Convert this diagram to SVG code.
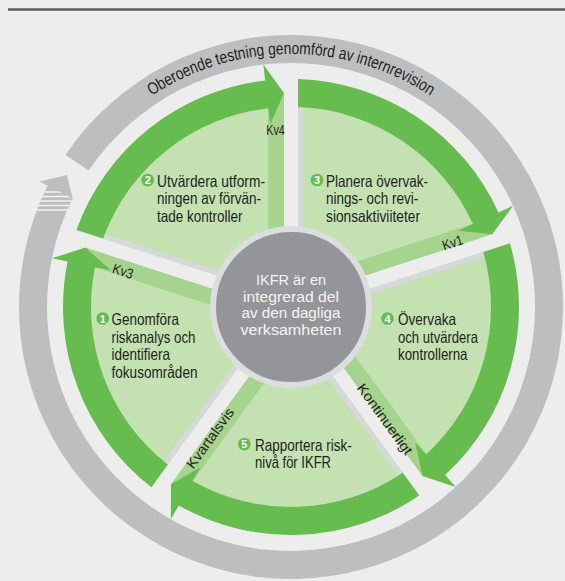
<svg xmlns="http://www.w3.org/2000/svg" xmlns:xlink="http://www.w3.org/1999/xlink" width="565" height="581" viewBox="0 0 565 581">
  <defs>
    <style>
      .bg { fill: #ECEDEC; }
      .txt { font-family: 'Liberation Sans Narrow', 'Liberation Sans', Arial, sans-serif; fill: #231F20; }
      .seg-text { font-size: 16.5px; }
      .center-text { font-size: 15.5px; fill: #F4F4F4; text-anchor: middle; }
      .spoke-label { font-size: 14px; text-anchor: middle; }
      .ring-text { font-size: 17px; text-anchor: middle; }
      .badge circle { fill: #64BB4E; }
      .badge text { font-family: 'Liberation Sans', Arial, sans-serif; font-weight: bold; font-size: 11px; fill: #FFFFFF; text-anchor: middle; }
      .stripe { stroke: #F2F3F3; stroke-width: 1.5; }
    </style>

    <!-- Gap on the leading spoke of a sector plus its thin grey edge (sector drawn from -90deg to -18deg) -->
    <g id="sector-edge">
      <rect class="bg" x="-7" y="-236" width="14" height="236"/>
      <rect x="7" y="-201" width="5" height="201" fill="#D7D8DA"/>
    </g>

    <!-- Timing strip along the trailing spoke and the curved arrow band ending in a head -->
    <g id="arrow">
      <polygon points="-2.16,-6.66 201.26,-72.75 187.86,-85.22 -7.11,-21.87" fill="#A6D48E"/>
      <path d="M7,-227.89 A228 228 0 0 1 207.47,-94.55 L222.03,-101.19 L201.26,-72.75 L167.43,-76.3 L181.99,-82.94 A200 200 0 0 0 7,-199.88 Z" fill="#66BC4F"/>
    </g>

    <clipPath id="stripe-clip">
      <polygon points="47.58,185.63 41.09,199.63 35.4,213.97 61.71,223.55 66.81,210.68 72.64,198.13"/>
    </clipPath>

    <path id="ring-text-path" d="M71.9,180.5 A253 253 0 0 1 510.1,180.5" fill="none"/>
  </defs>

  <!-- page -->
  <rect class="bg" x="0" y="0" width="565" height="581"/>
  <line x1="8" y1="9.5" x2="565" y2="9.5" stroke="#5B5B5B" stroke-width="2.5"/>

  <!-- outer cycle: independent testing -->
  <g id="outer-cycle">
    <path d="M65.5,154.9 A272 272 0 1 1 47.58,185.63 L39.52,181.62 L66.98,175.04 L72.64,198.13 A244 244 0 1 0 88.71,170.56 Z" fill="#BDBEC0"/>
    <g clip-path="url(#stripe-clip)">
      <line class="stripe" x1="28" y1="192" x2="82" y2="192"/>
      <line class="stripe" x1="28" y1="196.5" x2="82" y2="196.5"/>
      <line class="stripe" x1="28" y1="201" x2="82" y2="201"/>
      <line class="stripe" x1="28" y1="205.5" x2="82" y2="205.5"/>
      <line class="stripe" x1="28" y1="210" x2="82" y2="210"/>
    </g>
    <text class="txt ring-text"><textPath href="#ring-text-path" xlink:href="#ring-text-path" startOffset="50%" textLength="295" lengthAdjust="spacingAndGlyphs">Oberoende testning genomförd av internrevision</textPath></text>
  </g>

  <!-- wheel background -->
  <circle cx="291" cy="307" r="201" fill="#C4E1B2"/>

  <!-- steps -->
  <g id="step-3">
    <use href="#sector-edge" xlink:href="#sector-edge" transform="translate(291 307) rotate(0)"/>
    <g class="badge"><circle cx="317" cy="180" r="6.3"/><text x="317" y="184">3</text></g>
    <text class="txt seg-text" x="326" y="186.5" textLength="102" lengthAdjust="spacingAndGlyphs">Planera övervak-</text>
    <text class="txt seg-text" x="326" y="204" textLength="92.3" lengthAdjust="spacingAndGlyphs">nings- och revi-</text>
    <text class="txt seg-text" x="326" y="221.5" textLength="94" lengthAdjust="spacingAndGlyphs">sionsaktiviiteter</text>
  </g>

  <g id="step-4">
    <use href="#sector-edge" xlink:href="#sector-edge" transform="translate(291 307) rotate(72)"/>
    <g class="badge"><circle cx="387.5" cy="318.5" r="6.3"/><text x="387.5" y="322.5">4</text></g>
    <text class="txt seg-text" x="398" y="325" textLength="58" lengthAdjust="spacingAndGlyphs">Övervaka</text>
    <text class="txt seg-text" x="398" y="342.5" textLength="80" lengthAdjust="spacingAndGlyphs">och utvärdera</text>
    <text class="txt seg-text" x="398" y="360" textLength="69.5" lengthAdjust="spacingAndGlyphs">kontrollerna</text>
  </g>

  <g id="step-5">
    <use href="#sector-edge" xlink:href="#sector-edge" transform="translate(291 307) rotate(144)"/>
    <g class="badge"><circle cx="244.3" cy="444" r="6.3"/><text x="244.3" y="448">5</text></g>
    <text class="txt seg-text" x="255" y="450.5" textLength="96.8" lengthAdjust="spacingAndGlyphs">Rapportera risk-</text>
    <text class="txt seg-text" x="255" y="468" textLength="76" lengthAdjust="spacingAndGlyphs">nivå för IKFR</text>
  </g>

  <g id="step-1">
    <use href="#sector-edge" xlink:href="#sector-edge" transform="translate(291 307) rotate(216)"/>
    <g class="badge"><circle cx="102.7" cy="318.5" r="6.3"/><text x="102.7" y="322.5">1</text></g>
    <text class="txt seg-text" x="111.5" y="325" textLength="67.5" lengthAdjust="spacingAndGlyphs">Genomföra</text>
    <text class="txt seg-text" x="111.5" y="342.5" textLength="84" lengthAdjust="spacingAndGlyphs">riskanalys och</text>
    <text class="txt seg-text" x="111.5" y="360" textLength="58.5" lengthAdjust="spacingAndGlyphs">identifiera</text>
    <text class="txt seg-text" x="111.5" y="377.5" textLength="86" lengthAdjust="spacingAndGlyphs">fokusområden</text>
  </g>

  <g id="step-2">
    <use href="#sector-edge" xlink:href="#sector-edge" transform="translate(291 307) rotate(288)"/>
    <g class="badge"><circle cx="147.7" cy="180" r="6.3"/><text x="147.7" y="184">2</text></g>
    <text class="txt seg-text" x="157" y="186.5" textLength="108" lengthAdjust="spacingAndGlyphs">Utvärdera utform-</text>
    <text class="txt seg-text" x="157" y="204" textLength="104" lengthAdjust="spacingAndGlyphs">ningen av förvän-</text>
    <text class="txt seg-text" x="157" y="221.5" textLength="85.5" lengthAdjust="spacingAndGlyphs">tade kontroller</text>
  </g>

  <!-- arrows between steps with their timing -->
  <g id="connectors">
    <use href="#arrow" xlink:href="#arrow" transform="translate(291 307) rotate(0)"/>
    <use href="#arrow" xlink:href="#arrow" transform="translate(291 307) rotate(72)"/>
    <use href="#arrow" xlink:href="#arrow" transform="translate(291 307) rotate(144)"/>
    <use href="#arrow" xlink:href="#arrow" transform="translate(291 307) rotate(216)"/>
    <use href="#arrow" xlink:href="#arrow" transform="translate(291 307) rotate(288)"/>
    <text class="txt spoke-label" x="275.5" y="135" textLength="18.5" lengthAdjust="spacingAndGlyphs">Kv4</text>
    <text class="txt spoke-label" transform="translate(452.5 242.5) rotate(-18)" y="5" textLength="21" lengthAdjust="spacingAndGlyphs">Kv1</text>
    <text class="txt spoke-label" transform="translate(385 419) rotate(54)" y="5" textLength="84" lengthAdjust="spacingAndGlyphs">Kontinuerligt</text>
    <text class="txt spoke-label" transform="translate(210 438) rotate(-54)" y="5" textLength="71" lengthAdjust="spacingAndGlyphs">Kvartalsvis</text>
    <text class="txt spoke-label" transform="translate(123 271) rotate(18)" y="5" textLength="21" lengthAdjust="spacingAndGlyphs">Kv3</text>
  </g>

  <!-- hub -->
  <g id="hub">
    <circle cx="291" cy="307" r="78" fill="#949598" stroke="#DCDDDF" stroke-width="6"/>
    <text class="txt center-text" x="291" y="285" textLength="70" lengthAdjust="spacingAndGlyphs">IKFR är en</text>
    <text class="txt center-text" x="291" y="301.5" textLength="96" lengthAdjust="spacingAndGlyphs">integrerad del</text>
    <text class="txt center-text" x="291" y="318" textLength="99" lengthAdjust="spacingAndGlyphs">av den dagliga</text>
    <text class="txt center-text" x="291" y="334.5" textLength="101" lengthAdjust="spacingAndGlyphs">verksamheten</text>
  </g>
</svg>
